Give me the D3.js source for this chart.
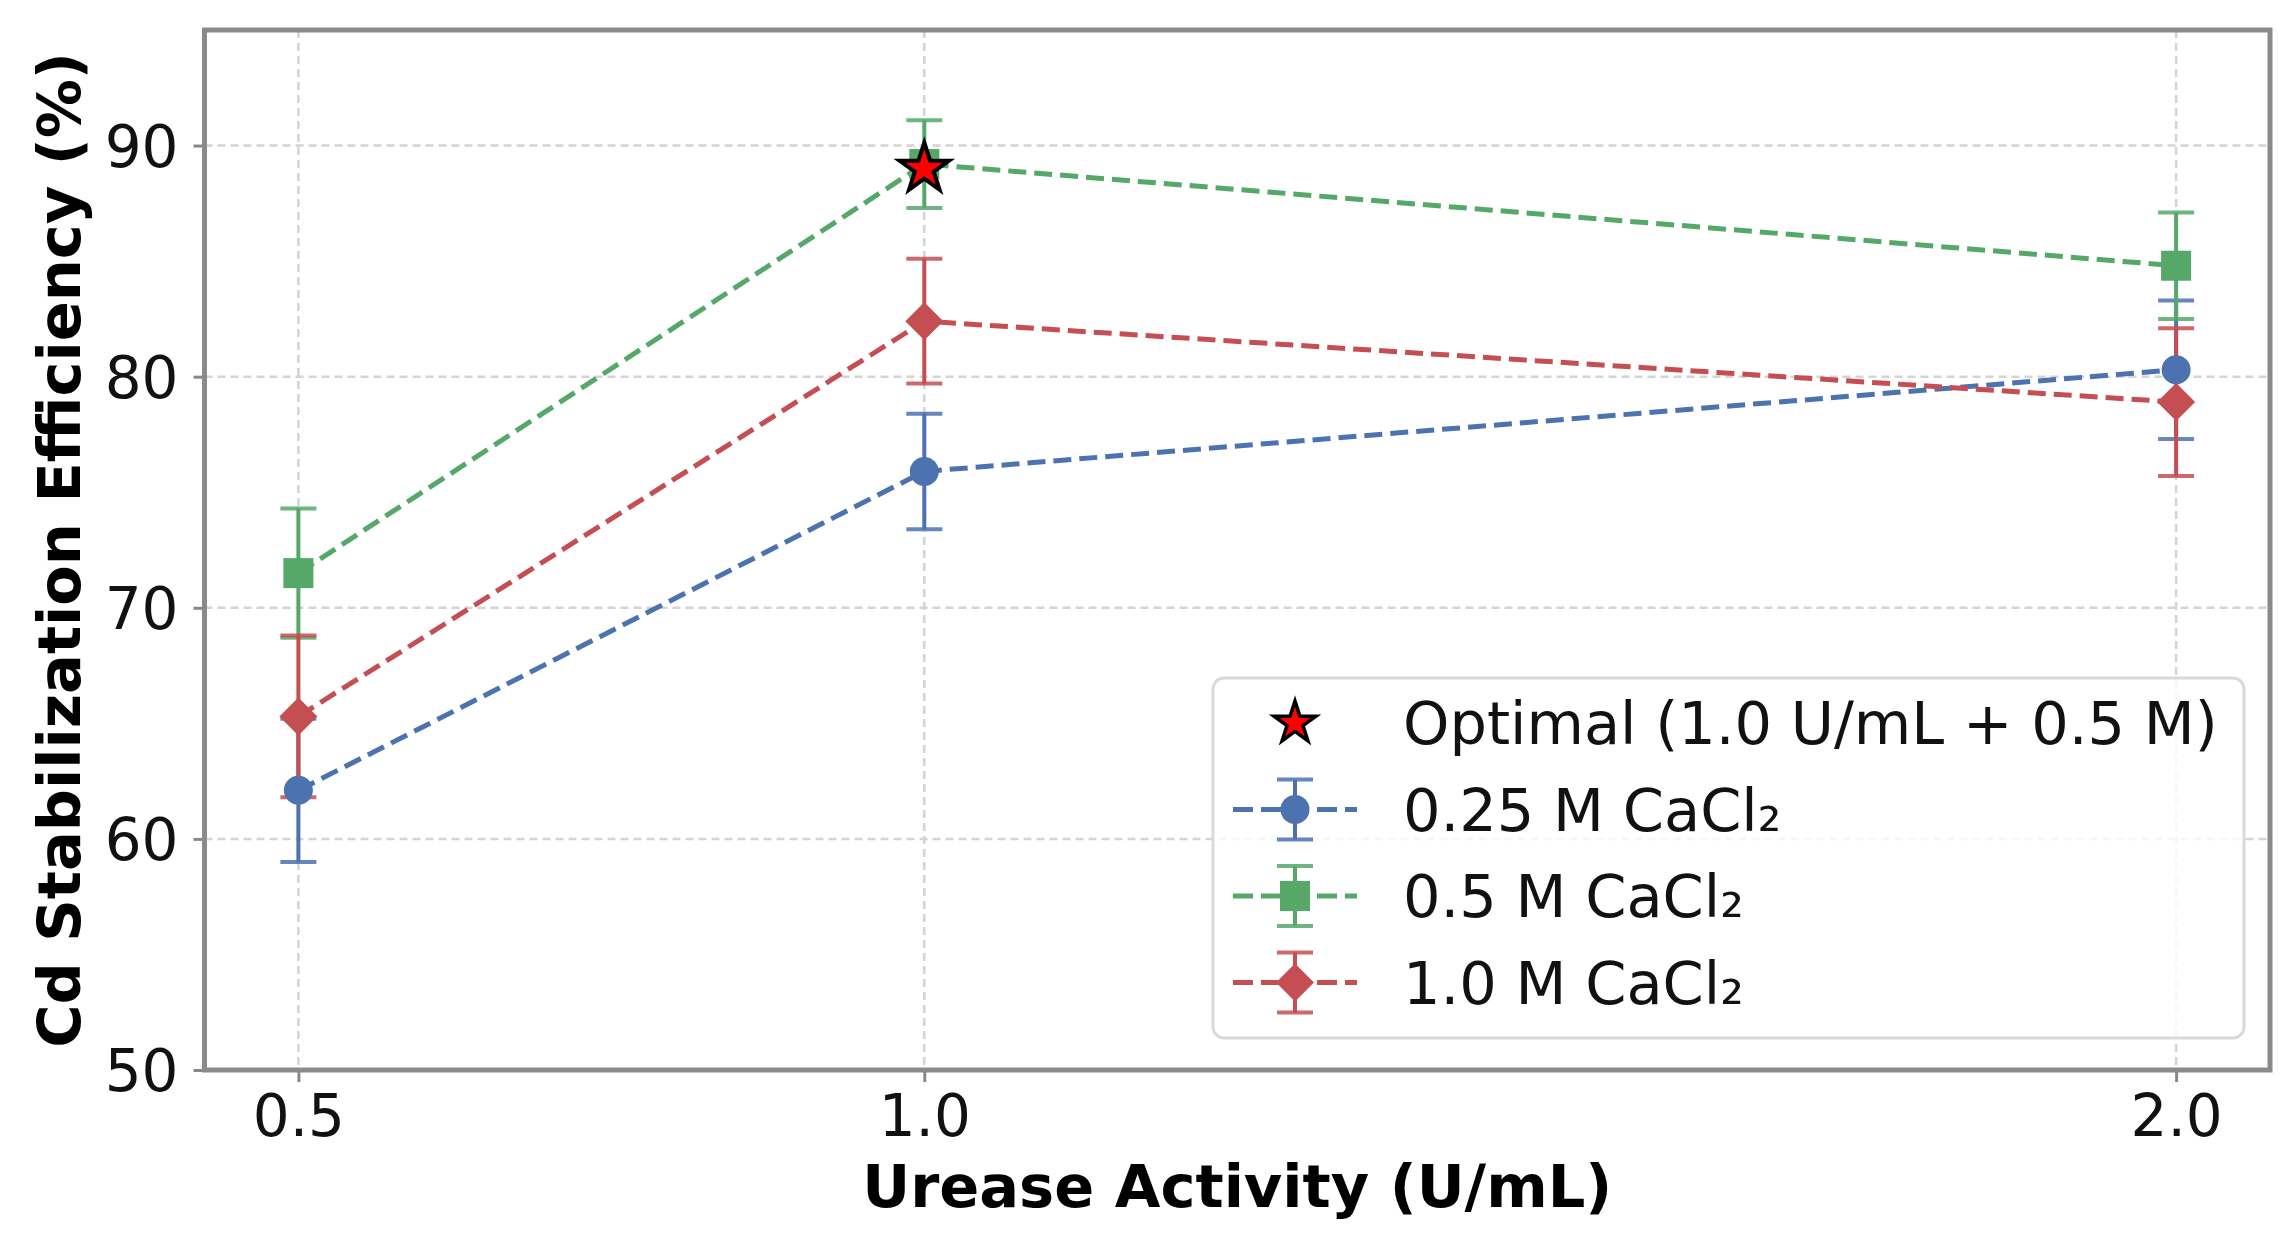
<!DOCTYPE html>
<html>
<head>
<meta charset="utf-8">
<script src="https://cdn.jsdelivr.net/npm/d3@7"></script>
<style>
  body { margin: 0; background: #fff; }
  text { font-family: 'DejaVu Sans', sans-serif; }
</style>
</head>
<body>
<div id="chart"></div>
<script>
// values
const ureaseActivity = [0.5, 1.0, 2.0];
const xTicks = [0.5, 1.0, 2.0];
const yTicks = [50, 60, 70, 80, 90];
const seriesNames = ['0.25 M CaCl₂', '0.5 M CaCl₂', '1.0 M CaCl₂'];
const eff025 = [62.1, 75.9, 80.3];
const err025 = [3.1, 2.5, 3.0];
const eff05 = [71.5, 89.2, 84.8];
const err05 = [2.8, 1.9, 2.3];
const eff10 = [65.3, 82.4, 78.9];
const err10 = [3.5, 2.7, 3.2];
const optimalLabel = 'Optimal (1.0 U/mL + 0.5 M)';
const optimalPoint = [1.0, 89.0];

const colors = ['#4C72B0', '#55A868', '#C44E52'];
const shapes = ['circle', 'square', 'diamond'];

const series = seriesNames.map((name, i) => ({
  name,
  color: colors[i],
  shape: shapes[i],
  values: ureaseActivity.map((x, j) => ({
    x,
    y: [eff025, eff05, eff10][i][j],
    e: [err025, err05, err10][i][j]
  }))
}));

const W = 2295, H = 1239;
const margin = {top: 30, right: 25, bottom: 169, left: 204.5};
const width = W - margin.left - margin.right;
const height = H - margin.top - margin.bottom;

const svg = d3.select('#chart')
  .append('svg')
  .attr('width', W)
  .attr('height', H)
  .append('g')
  .attr('transform', `translate(${margin.left}, ${margin.top})`);

const x = d3.scaleLinear().domain([0.425, 2.075]).range([0, width]);
const y = d3.scaleLinear().domain([50, 95]).range([height, 0]);

// grid
svg.append('g')
  .selectAll('line')
  .data(xTicks)
  .join('line')
  .attr('x1', d => x(d)).attr('x2', d => x(d))
  .attr('y1', 0).attr('y2', height)
  .attr('stroke', '#d4d4d4').attr('stroke-width', 2.5)
  .attr('stroke-dasharray', '8,5');
svg.append('g')
  .selectAll('line')
  .data(yTicks)
  .join('line')
  .attr('x1', 0).attr('x2', width)
  .attr('y1', d => y(d)).attr('y2', d => y(d))
  .attr('stroke', '#d4d4d4').attr('stroke-width', 2.5)
  .attr('stroke-dasharray', '8,5');

// axes
const xAxis = g => g
  .attr('transform', `translate(0, ${height})`)
  .call(d3.axisBottom(x).tickValues(xTicks).tickFormat(d3.format('.1f')).tickSize(12).tickPadding(13))
  .call(g => g.select('.domain').remove());
const yAxis = g => g
  .call(d3.axisLeft(y).tickValues(yTicks).tickSize(11).tickPadding(15))
  .call(g => g.select('.domain').remove());

[svg.append('g').call(xAxis), svg.append('g').call(yAxis)].forEach(g => {
  g.selectAll('line').attr('stroke', '#888').attr('stroke-width', 3);
  g.selectAll('text')
    .attr('fill', '#111')
    .style('font-size', '58px')
    .style('font-family', "'DejaVu Sans', sans-serif");
});
svg.selectAll('.tick text').filter(function() { return d3.select(this).attr('x') !== null && +d3.select(this).attr('x') < 0; })
  .attr('dy', '0.36em');

// spines
svg.append('rect')
  .attr('x', 0).attr('y', 0)
  .attr('width', width).attr('height', height)
  .attr('fill', 'none')
  .attr('stroke', '#8a8a8a')
  .attr('stroke-width', 5);

// marker drawing
const drawMarker = (sel, shape, color) => {
  if (shape === 'circle') {
    sel.append('circle').attr('r', 14.5).attr('fill', color);
  } else if (shape === 'square') {
    sel.append('rect').attr('x', -15).attr('y', -15).attr('width', 30).attr('height', 30).attr('fill', color);
  } else {
    sel.append('path').attr('d', 'M0,-19L19,0L0,19L-19,0Z').attr('fill', color);
  }
};
const starPath = R => {
  const r = R * 0.381966;
  const pts = d3.range(10).map(i => {
    const a = -Math.PI / 2 + i * Math.PI / 5;
    const rr = i % 2 ? r : R;
    return [rr * Math.cos(a), rr * Math.sin(a)];
  });
  return 'M' + pts.join('L') + 'Z';
};

// error bars (drawn under the lines)
const capHalf = 18;
series.forEach(s => {
  const eb = svg.append('g').attr('stroke', s.color).attr('stroke-width', 4);
  eb.selectAll('line.bar')
    .data(s.values)
    .join('line')
    .attr('class', 'bar')
    .attr('x1', d => x(d.x)).attr('x2', d => x(d.x))
    .attr('y1', d => y(d.y - d.e)).attr('y2', d => y(d.y + d.e));
  eb.selectAll('line.cap')
    .data(s.values.flatMap(d => [{x: d.x, v: d.y - d.e}, {x: d.x, v: d.y + d.e}]))
    .join('line')
    .attr('class', 'cap')
    .attr('x1', d => x(d.x) - capHalf).attr('x2', d => x(d.x) + capHalf)
    .attr('y1', d => y(d.v)).attr('y2', d => y(d.v))
    .attr('stroke-opacity', 0.85);
});

// dashed lines + markers
const line = d3.line().x(d => x(d.x)).y(d => y(d.y));
series.forEach(s => {
  svg.append('path')
    .datum(s.values)
    .attr('d', line)
    .attr('fill', 'none')
    .attr('stroke', s.color)
    .attr('stroke-width', 5)
    .attr('stroke-dasharray', '18,8');
  svg.append('g')
    .selectAll('g')
    .data(s.values)
    .join('g')
    .attr('transform', d => `translate(${x(d.x)}, ${y(d.y)})`)
    .each(function() { drawMarker(d3.select(this), s.shape, s.color); });
});

// optimal star
svg.append('path')
  .attr('transform', `translate(${x(optimalPoint[0])}, ${y(optimalPoint[1])})`)
  .attr('d', starPath(26))
  .attr('fill', '#ff0000')
  .attr('stroke', '#000')
  .attr('stroke-width', 4)
  .attr('stroke-linejoin', 'miter');

// axis labels
svg.append('text')
  .attr('x', width / 2)
  .attr('y', 1207 - margin.top)
  .attr('text-anchor', 'middle')
  .style('font-size', '59px')
  .style('font-weight', 'bold')
  .attr('fill', '#000')
  .text('Urease Activity (U/mL)');
svg.append('text')
  .attr('transform', `translate(${80 - margin.left}, ${height / 2}) rotate(-90)`)
  .attr('text-anchor', 'middle')
  .style('font-size', '59px')
  .style('font-weight', 'bold')
  .attr('fill', '#000')
  .text('Cd Stabilization Efficiency (%)');

// legend
const lx = 1213 - margin.left, ly = 678 - margin.top;
const legend = svg.append('g').attr('transform', `translate(${lx}, ${ly})`);
legend.append('rect')
  .attr('width', 1031).attr('height', 360)
  .attr('rx', 11)
  .attr('fill', '#fff').attr('fill-opacity', 0.8)
  .attr('stroke', '#d9d9d9').attr('stroke-width', 3);

const rowY = i => 45 + i * 86.5;
const hx = 82;
const legendItems = [{name: optimalLabel, star: true}].concat(series);
const items = legend.selectAll('g.item')
  .data(legendItems)
  .join('g')
  .attr('class', 'item')
  .attr('transform', (d, i) => `translate(0, ${rowY(i)})`);

items.each(function(d) {
  const g = d3.select(this);
  if (d.star) {
    g.append('path')
      .attr('transform', `translate(${hx}, 0)`)
      .attr('d', starPath(22))
      .attr('fill', '#ff0000')
      .attr('stroke', '#000')
      .attr('stroke-width', 3.5);
  } else {
    g.append('line')
      .attr('x1', hx - 62).attr('x2', hx + 62)
      .attr('stroke', d.color).attr('stroke-width', 5)
      .attr('stroke-dasharray', '20,8');
    g.append('line')
      .attr('x1', hx).attr('x2', hx).attr('y1', -30).attr('y2', 30)
      .attr('stroke', d.color).attr('stroke-width', 4);
    [-30, 30].forEach(v => g.append('line')
      .attr('x1', hx - capHalf).attr('x2', hx + capHalf)
      .attr('y1', v).attr('y2', v)
      .attr('stroke', d.color).attr('stroke-width', 4).attr('stroke-opacity', 0.85));
    drawMarker(g.append('g').attr('transform', `translate(${hx}, 0)`), d.shape, d.color);
  }
  g.append('text')
    .attr('x', 190)
    .attr('dy', '0.36em')
    .style('font-size', '59px')
    .attr('fill', '#111')
    .text(d.name);
});
</script>
</body>
</html>
